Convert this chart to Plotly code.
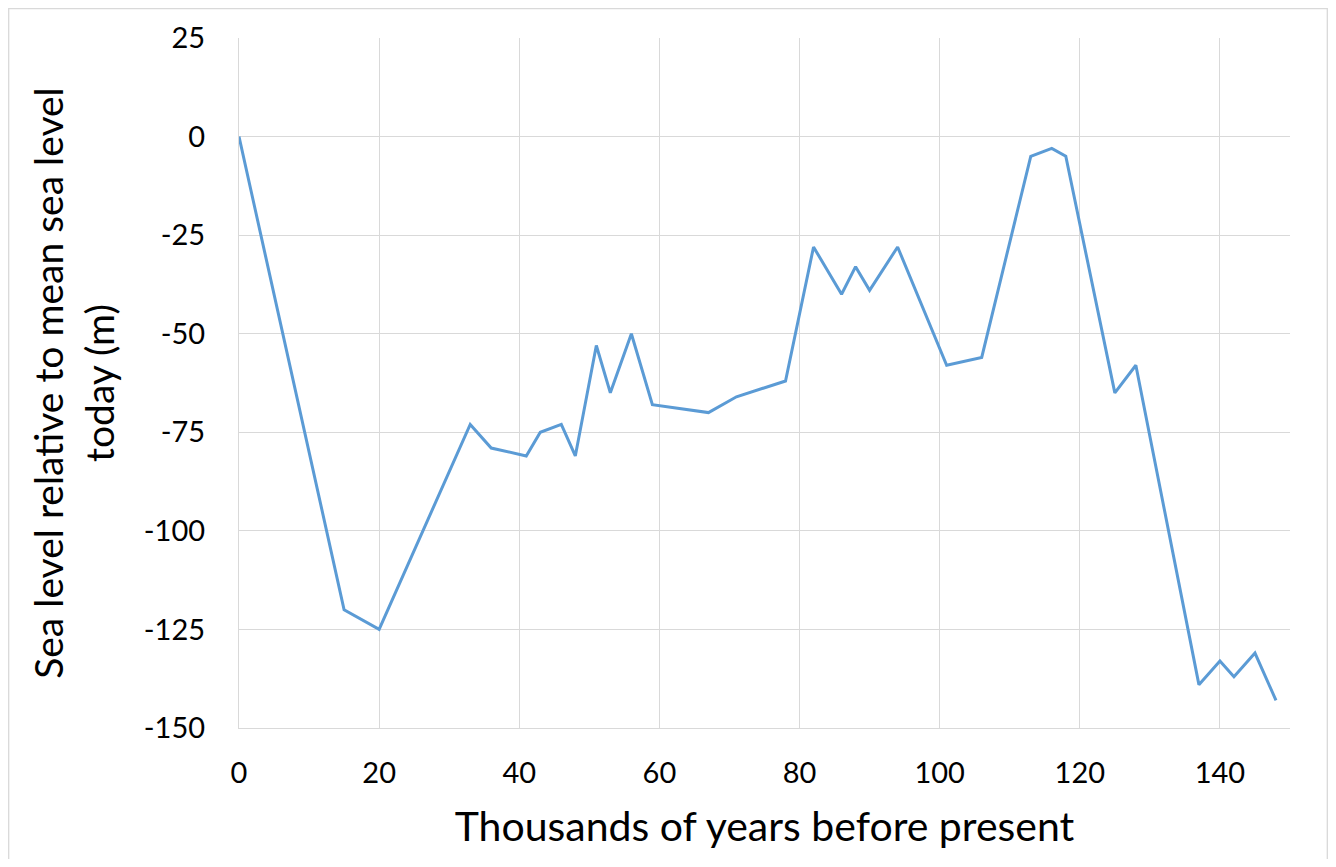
import plotly.graph_objects as go

# Thousands of years before present
years_kyr = [0, 15, 20, 33, 36, 41, 43, 46, 48, 51, 53, 56, 59, 67, 71, 78, 82, 86, 88, 90,
             94, 101, 106, 113, 116, 118, 125, 128, 137, 140, 142, 145, 148]
# Sea level relative to today (m)
sea_level_m = [0, -120, -125, -73, -79, -81, -75, -73, -81, -53, -65, -50, -68, -70, -66, -62,
               -28, -40, -33, -39, -28, -58, -56, -5, -3, -5, -65, -58, -139, -133, -137, -131, -143]

x_ticks = [0, 20, 40, 60, 80, 100, 120, 140]
y_ticks = [25, 0, -25, -50, -75, -100, -125, -150]

FONT = "Lato"
GRID = "#D9D9D9"

fig = go.Figure()
fig.add_trace(go.Scatter(
    x=years_kyr, y=sea_level_m, mode="lines",
    line=dict(color="#5B9BD5", width=3),
    hoverinfo="x+y", showlegend=False,
))

# page body has an 8px margin; figure placed at (8, 8)
W, H = 1320, 851
L, T = 231, 30            # plot left/top in figure coords (239, 38 on page)
R = W - (1290 - 8)        # plot right at 1290 on page
B = H - (728 - 8)         # plot bottom at 728 on page
pw, ph = W - L - R, H - T - B

fig.update_layout(
    width=W, height=H,
    margin=dict(l=L, r=R, t=T, b=B, pad=0),
    paper_bgcolor="white", plot_bgcolor="white",
    font=dict(family=FONT, color="#000000"),
    xaxis=dict(
        range=[0, 150], tickvals=x_ticks, ticktext=[str(v) for v in x_ticks],
        showgrid=True, gridcolor=GRID, gridwidth=1.3,
        zeroline=False, showline=True, linecolor=GRID, linewidth=1.3,
        ticks="", tickfont=dict(size=29, family=FONT), ticklabelstandoff=19,
        title=dict(text="Thousands of years before present",
                   font=dict(size=41, family=FONT), standoff=24),
        automargin=False,
    ),
    yaxis=dict(
        range=[-150, 25], tickvals=y_ticks, ticktext=[str(v) for v in y_ticks],
        showgrid=True, gridcolor=GRID, gridwidth=1.3,
        zeroline=False, showline=True, linecolor=GRID, linewidth=1.3,
        ticks="", tickfont=dict(size=29, family=FONT), ticklabelstandoff=27,
        title=dict(text="Sea level relative to mean sea level<br>today (m)",
                   font=dict(size=39, family=FONT), standoff=17),
        automargin=False,
    ),
    shapes=[
        dict(type="rect", xref="paper", yref="paper",
             x0=(0.7 - L) / pw, x1=(W - 0.7 - L) / pw,
             y0=-(H - T - ph) / ph - 0.01, y1=(T + ph - 0.7) / ph,
             line=dict(color="#D9D9D9", width=1.3), fillcolor="rgba(0,0,0,0)", layer="below"),
    ],
)

fig.write_html("out.html")
